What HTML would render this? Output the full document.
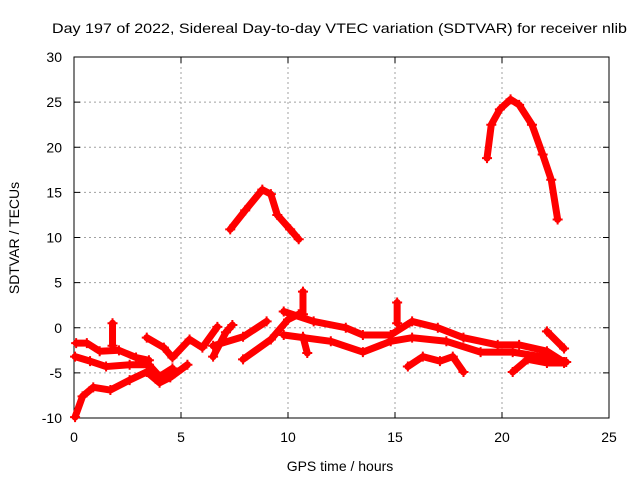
<!DOCTYPE html>
<html><head><meta charset="utf-8"><style>
body{margin:0;background:#fff}
svg{display:block;font-family:"Liberation Sans",sans-serif}
</style></head><body>
<svg id="chart" width="640" height="480"></svg>
<script>
const xTicks=[0,5,10,15,20,25];
const yTicks=[-10,-5,0,5,10,15,20,25,30];
const trackLowHours=[0.05,0.4,0.9,1.7,2.6,3.4,4.0,4.5,5.3];
const trackLowVals=[-9.9,-7.6,-6.6,-6.9,-5.8,-4.9,-6.1,-5.5,-4.1];
const trackMidHours=[0.05,0.75,1.5,2.6,3.5,4.0,4.6];
const trackMidVals=[-3.2,-3.7,-4.3,-4.1,-4.1,-5.4,-4.5];
const trackUpHours=[0.1,0.6,1.2,2.1,2.9,3.5];
const trackUpVals=[-1.7,-1.7,-2.6,-2.5,-3.3,-3.6];
const trackB1Hours=[3.4,4.2,4.6,5.4,6.0,6.7];
const trackB1Vals=[-1.1,-2.2,-3.3,-1.3,-2.2,0.1];
const trackB2Hours=[6.5,7.1,7.4];
const trackB2Vals=[-3.2,-0.5,0.3];
const trackB3Hours=[6.5,7.9,9.0];
const trackB3Vals=[-2.0,-1.0,0.7];
const trackB4Hours=[7.9,9.2,10.0,10.5];
const trackB4Vals=[-3.5,-1.3,0.9,1.5];
const bandUpHours=[9.8,11.2,12.7,13.5,14.8,15.8,17.0,18.2,19.8,20.8,22.1,22.9];
const bandUpVals=[1.8,0.7,0,-0.8,-0.8,0.7,0,-1.1,-1.9,-1.9,-2.6,-3.8];
const bandLowHours=[9.8,12.0,13.5,14.8,15.8,17.4,19.0,20.5,22.1,23.0];
const bandLowVals=[-0.8,-1.5,-2.7,-1.5,-1.1,-1.5,-2.7,-2.7,-3.3,-3.8];
const branch1Hours=[15.6,16.3,17.1,17.7,18.2];
const branch1Vals=[-4.3,-3.2,-3.7,-3.2,-4.9];
const branch2Hours=[20.5,21.2,22.1,22.9];
const branch2Vals=[-4.9,-3.5,-3.9,-3.9];
const branch3Hours=[22.1,22.9];
const branch3Vals=[-0.4,-2.3];
const spikeAHours=[1.8,1.8];
const spikeAVals=[0.5,-2.0];
const spikeBHours=[10.7,10.7];
const spikeBVals=[4.0,1.5];
const spikeCHours=[15.1,15.1];
const spikeCVals=[2.8,0.5];
const spikeDHours=[10.7,10.9];
const spikeDVals=[-1.0,-2.8];
const arc1Hours=[7.3,8.0,8.8,9.2,9.5,10.1,10.5];
const arc1Vals=[10.9,13.0,15.3,14.8,12.5,10.9,9.8];
const arc2Hours=[19.3,19.5,19.9,20.4,20.8,21.4,21.9,22.3,22.6];
const arc2Vals=[18.8,22.5,24.2,25.3,24.7,22.5,19.2,16.4,12.0];
const series=[[trackLowHours,trackLowVals],[trackMidHours,trackMidVals],[trackUpHours,trackUpVals],
[trackB1Hours,trackB1Vals],[trackB2Hours,trackB2Vals],[trackB3Hours,trackB3Vals],[trackB4Hours,trackB4Vals],
[bandUpHours,bandUpVals],[bandLowHours,bandLowVals],[branch1Hours,branch1Vals],[branch2Hours,branch2Vals],
[branch3Hours,branch3Vals],[spikeAHours,spikeAVals],[spikeBHours,spikeBVals],[spikeCHours,spikeCVals],
[spikeDHours,spikeDVals],[arc1Hours,arc1Vals],[arc2Hours,arc2Vals]];

const X0=74,X1=609,Y0=418,Y1=57;
const xs=h=>X0+(h-0)/(25-0)*(X1-X0);
const ys=v=>Y0-(v+10)/40*(Y0-Y1);
const svg=document.getElementById('chart');
const NS='http://www.w3.org/2000/svg';
function mk(t,a){const e=document.createElementNS(NS,t);for(const k in a)e.setAttribute(k,a[k]);svg.appendChild(e);return e;}

const title=mk('text',{x:339.5,y:33,'text-anchor':'middle','font-size':14,fill:'#000',textLength:575,lengthAdjust:'spacingAndGlyphs'});


title.textContent='Day 197 of 2022, Sidereal Day-to-day VTEC variation (SDTVAR) for receiver nlib';

xTicks.forEach(t=>{
  const x=xs(t);
  if(t>0&&t<25){const g=mk('line',{x1:x,x2:x,y1:Y1,y2:Y0,stroke:'#a0a0a0','stroke-dasharray':'2,3'});
  }
  mk('line',{x1:x,x2:x,y1:Y0,y2:Y0-6,stroke:'#000'});
  mk('line',{x1:x,x2:x,y1:Y1,y2:Y1+6,stroke:'#000'});
  const l=mk('text',{x:x,y:Y0+24,'text-anchor':'middle','font-size':14});
  
  l.textContent=t;
});
yTicks.forEach(t=>{
  const y=ys(t);
  if(t>-10&&t<30){const g=mk('line',{x1:X0,x2:X1,y1:y,y2:y,stroke:'#a0a0a0','stroke-dasharray':'2,3'});
  }
  mk('line',{x1:X0,x2:X0+6,y1:y,y2:y,stroke:'#000'});
  mk('line',{x1:X1,x2:X1-6,y1:y,y2:y,stroke:'#000'});
  const l=mk('text',{x:X0-12,y:y+5,'text-anchor':'end','font-size':14});
  
  l.textContent=t;
});
const frame=mk('rect',{x:X0,y:Y1,width:X1-X0,height:Y0-Y1,fill:'none',stroke:'#000'});


series.forEach(([hs,vs],i)=>{
  const pts=hs.map((h,j)=>xs(h)+','+ys(vs[j])).join(' ');
  const p=mk('polyline',{points:pts,fill:'none',stroke:'#ff0000','stroke-width':7,'stroke-linejoin':'round','stroke-linecap':'round'});
  
  
  hs.forEach((h,j)=>{
    const x=xs(h),y=ys(vs[j]);
    const m=mk('path',{d:`M${x-5},${y}H${x+5}M${x},${y-5}V${y+5}`,stroke:'#ff0000','stroke-width':2});
    
    
  });
});

const xl=mk('text',{x:340,y:471,'text-anchor':'middle','font-size':14});

xl.textContent='GPS time / hours';
const yl=mk('text',{x:0,y:0,'text-anchor':'middle','font-size':14,transform:'translate(19,238) rotate(-90)'});

yl.textContent='SDTVAR / TECUs';
</script>
</body></html>
